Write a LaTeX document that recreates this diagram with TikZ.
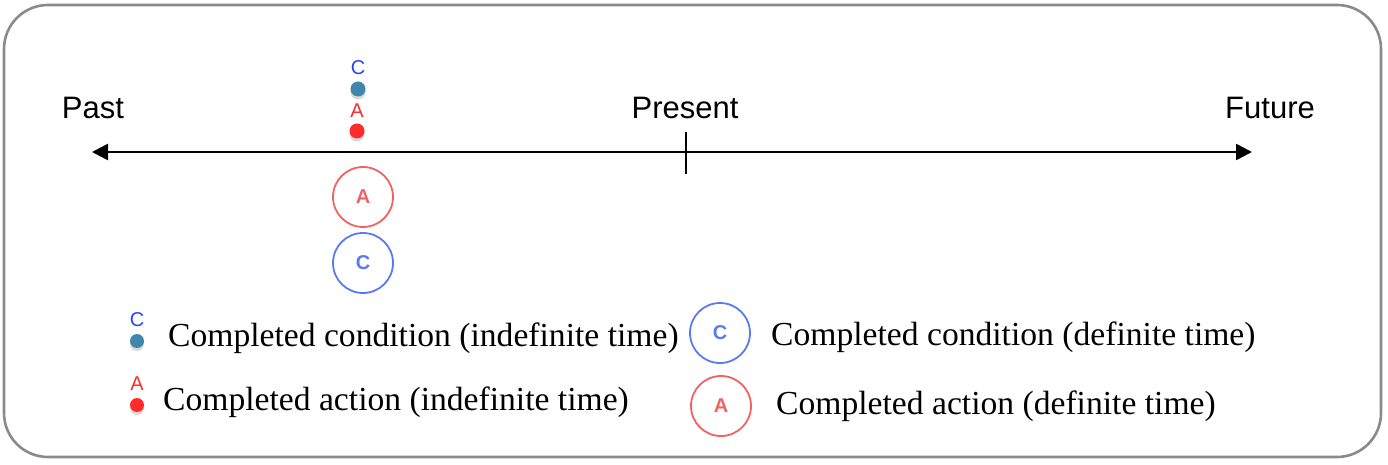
\documentclass[tikz,border=0pt]{standalone}
\usepackage{fontspec}
\setmainfont{Liberation Serif}
\setsansfont{Liberation Sans}
\usetikzlibrary{arrows.meta}
\definecolor{framegray}{HTML}{8A8A8E}
\definecolor{condblue}{HTML}{3F86AD}
\definecolor{condtext}{HTML}{2244FF}
\definecolor{actred}{HTML}{FF2A2A}
\definecolor{ringred}{HTML}{F26262}
\definecolor{ringblue}{HTML}{5A7AF2}
\begin{document}
\begin{tikzpicture}[x=1pt,y=1pt]
        \tikzstyle{timetext}=[font=\sffamily\fontsize{31}{36}\selectfont]
        \tikzstyle{legtext}=[font=\rmfamily\fontsize{33.6}{38}\selectfont, anchor=west, inner sep=0pt]
        \tikzstyle{tiny}=[font=\sffamily\fontsize{20}{23}\selectfont, inner sep=0pt]
        \tikzstyle{dot}=[circle, inner sep=0pt, minimum size=15pt]
        \tikzstyle{ring}=[circle, draw, line width=1.8pt, inner sep=0pt, minimum size=60pt,
                          font=\sffamily\bfseries\fontsize{20}{23}\selectfont]

        \useasboundingbox (0,0) rectangle (1388,464);
        \draw[framegray, line width=2.6pt, rounded corners=44pt] (4,7) rectangle (1381,459);

        % time line
        \coordinate (west) at (92,312);
        \coordinate (east) at (1252,312);
        \coordinate (tickup) at (686,332);
        \coordinate (tickdown) at (686,290);
        \draw[line width=2.6pt, {Triangle[length=16pt,width=16pt]}-{Triangle[length=16pt,width=16pt]}] (west) -- (east);
        \draw[line width=2.6pt] (tickup) -- (tickdown);

        \node[timetext] (past)    at (93,356)   {Past};
        \node[timetext] (present) at (685,356)  {Present};
        \node[timetext] (future)  at (1270,356) {Future};

        % dots on the line
        \node[dot, fill=black!25, opacity=0.6] (cshade) at (358,372) {};
        \node[dot, fill=condblue] (cdot) at (358,375) {};
        \node[tiny, text=condtext] (clab) at (358,396) {C};
        \node[dot, fill=black!25, opacity=0.6] (ashade) at (357,330) {};
        \node[dot, fill=actred] (adot) at (357,333) {};
        \node[tiny, text=actred] (alab) at (357,353) {A};

        \node[ring, ringred, text=ringred]   (aring) at (363,267) {A};
        \node[ring, ringblue, text=ringblue] (cring) at (363,201) {C};

        % legend
        \node[dot, fill=black!25, opacity=0.6, minimum size=14pt] (lcshade) at (137,120) {};
        \node[dot, fill=condblue, minimum size=14pt] (lcdot) at (137,123) {};
        \node[tiny, text=condtext] (lclab) at (137,144) {C};
        \node[legtext] (lctext) at (168,126) {Completed condition (indefinite time)};

        \node[dot, fill=black!25, opacity=0.6, minimum size=14pt] (lashade) at (137,56) {};
        \node[dot, fill=actred, minimum size=14pt] (ladot) at (137,59) {};
        \node[tiny, text=actred] (lalab) at (137,80) {A};
        \node[legtext] (latext) at (163,62) {Completed action (indefinite time)};

        \node[ring, ringblue, text=ringblue] (lcring) at (720,131) {C};
        \node[legtext] (lcringtext) at (771,127) {Completed condition (definite time)};
        \node[ring, ringred, text=ringred]   (laring) at (721,58) {A};
        \node[legtext] (laringtext) at (776,58) {Completed action (definite time)};
    \end{tikzpicture}
\end{document}
